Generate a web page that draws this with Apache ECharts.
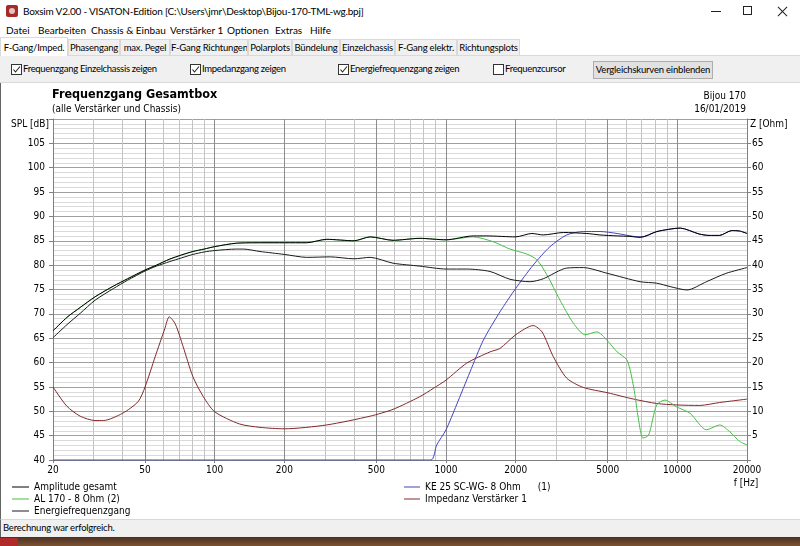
<!DOCTYPE html>
<html>
<head>
<meta charset="utf-8">
<script src="https://cdn.jsdelivr.net/npm/echarts@6/dist/echarts.min.js"></script>
<style>
  html, body { margin: 0; padding: 0; width: 800px; height: 546px; overflow: hidden; background: #fff; }
  body { position: relative; font-family: Lato, "Liberation Sans", sans-serif; font-size: 10px; color: #000; }
  .abs { position: absolute; white-space: nowrap; }
  .tab { position: absolute; top: 39px; height: 16px; line-height: 16px; text-align: center; background: #f0f0f0; border: 1px solid #d9d9d9; border-bottom: none; box-sizing: border-box; white-space: nowrap; overflow: hidden; font-size: 9.5px; letter-spacing: -0.2px; }
  .tab.sel { top: 37px; height: 19px; line-height: 19px; background: #fff; border-color: #d9d9d9; z-index: 2; }
  .cb { position: absolute; top: 64px; width: 11px; height: 11px; box-sizing: border-box; border: 1px solid #333; background: #fff; }
  .cbl { font-size: 9.5px; letter-spacing: -0.3px; top: 63px; }
</style>
</head>
<body>
<!-- Titelleiste -->
<div class="abs" style="left:6px;top:5px;width:12px;height:12px;background:#a52a2a;border-radius:2px;"></div>
<div class="abs" style="left:9px;top:8px;width:6px;height:6px;background:#e8c0c0;border-radius:3px;"></div>
<div class="abs" style="left:23px;top:5px;font-size:10px;letter-spacing:-0.2px;">Boxsim V2.00 - VISATON-Edition [C:\Users\jmr\Desktop\Bijou-170-TML-wg.bpj]</div>
<div class="abs" style="left:711px;top:11px;width:10px;height:1px;background:#222;"></div>
<div class="abs" style="left:743px;top:6px;width:9px;height:9px;border:1px solid #222;box-sizing:border-box;"></div>
<div class="abs" style="left:776px;top:11px;width:13px;height:1px;background:#222;transform:rotate(45deg);"></div>
<div class="abs" style="left:776px;top:11px;width:13px;height:1px;background:#222;transform:rotate(-45deg);"></div>

<!-- Menü -->
<div class="abs" style="left:6px;top:24px;">Datei</div>
<div class="abs" style="left:38px;top:24px;">Bearbeiten</div>
<div class="abs" style="left:91px;top:24px;">Chassis &amp; Einbau</div>
<div class="abs" style="left:170px;top:24px;">Verstärker 1</div>
<div class="abs" style="left:227px;top:24px;">Optionen</div>
<div class="abs" style="left:275px;top:24px;">Extras</div>
<div class="abs" style="left:310px;top:24px;">Hilfe</div>

<div id="tabs"></div>

<!-- Optionsleiste -->
<div class="abs" style="left:0;top:55px;width:800px;height:28px;background:#f0f0f0;border-top:1px solid #d9d9d9;border-bottom:1px solid #dadada;box-sizing:border-box;"></div>
<div id="checks"></div>
<div class="abs" style="left:593px;top:61px;width:120px;height:18px;background:#e1e1e1;border:1px solid #adadad;box-sizing:border-box;text-align:center;line-height:16px;font-size:9.5px;letter-spacing:-0.2px;">Vergleichskurven einblenden</div>

<!-- Diagramm -->
<div class="abs" style="left:0;top:83px;width:800px;height:436px;background:#fff;border-left:1px solid #646464;box-sizing:border-box;"></div>
<div id="chart" class="abs" style="left:0;top:84px;width:800px;height:434px;"></div>

<!-- Statusleiste -->
<div class="abs" style="left:0;top:519px;width:800px;height:18px;background:#f0f0f0;border-top:1px solid #d7d7d7;border-left:1px solid #646464;box-sizing:border-box;"></div>
<div class="abs" style="left:3px;top:522px;font-size:9.5px;letter-spacing:-0.2px;">Berechnung war erfolgreich.</div>
<div class="abs" style="left:0;top:537px;width:800px;height:9px;background:linear-gradient(#4a3020,#7b5334);"></div>
<div class="abs" style="left:0;top:538px;width:18px;height:8px;background:#b02a2a;"></div>

<script>

// Amplitude gesamt [dB]
const ampFreq = [20, 23, 26.2, 30.4, 36.5, 42, 50, 56, 63.6, 72, 80.5, 90, 100, 124, 160, 200, 250, 305, 400, 470, 590, 770,
  1000, 1310, 1500, 2000, 2350, 2630, 3215, 4060, 4630, 5490, 6230, 6900, 8160, 10300, 12400, 13700, 15200, 17200, 18600, 20000];
const ampDb = [66.5, 69.3, 71.3, 73.5, 75.7, 77.2, 79.0, 80.0, 81.2, 82.1, 82.8, 83.3, 83.8, 84.5, 84.6, 84.6, 84.6, 85.3, 85.0, 85.8, 85.1, 85.5,
  85.2, 86.0, 86.0, 85.8, 86.5, 86.2, 86.7, 86.5, 86.2, 86.0, 85.9, 85.7, 86.9, 87.6, 86.4, 86.1, 86.1, 87.1, 87.0, 86.5];

// AL 170 - 8 Ohm (Tiefmitteltöner) [dB]
const wooferFreq = [20, 23, 26.2, 30.4, 36.5, 42, 50, 56, 63.6, 72, 80.5, 90, 100, 124, 160, 200, 250, 305, 400, 470, 590, 770,
  1000, 1310, 1600, 1890, 2230, 2470, 2730, 3110, 3550, 3990, 4490, 4960, 5490, 6060, 6470, 6800, 7100, 7510, 8140, 8840,
  9930, 11340, 13360, 15250, 16850, 18600, 20000];
const wooferDb = [66.5, 69.3, 71.3, 73.5, 75.7, 77.2, 79.0, 80.0, 81.2, 82.1, 82.8, 83.3, 83.8, 84.5, 84.6, 84.6, 84.6, 85.3, 85.0, 85.8, 85.1, 85.5,
  85.2, 85.8, 84.8, 83.3, 82.3, 81.1, 78.0, 72.8, 68.1, 65.7, 66.3, 64.6, 62.2, 60.5, 55.0, 48.2, 44.5, 45.1, 51.3, 52.3,
  50.9, 49.6, 46.2, 47.2, 45.8, 43.8, 43.1];

// Energiefrequenzgang [dB]
const energyFreq = [20, 23, 26.2, 30.4, 36.5, 42, 50, 56, 63.6, 72, 80.5, 90, 100, 124, 133, 157, 200, 250, 316, 400, 470, 590, 770,
  1000, 1230, 1550, 1890, 2310, 2630, 3325, 3920, 5000, 6900, 8140, 9300, 11000, 13360, 16200, 20000];
const energyDb = [65.1, 67.8, 70.1, 72.8, 75.2, 76.9, 78.8, 79.8, 80.7, 81.5, 82.2, 82.7, 83.0, 83.3, 83.3, 82.8, 82.2, 81.6, 81.7, 81.3, 81.6, 80.4, 79.8,
  79.2, 79.2, 78.7, 77.1, 76.6, 77.2, 79.4, 79.5, 78.3, 76.6, 76.3, 75.6, 74.9, 76.6, 78.3, 79.5];

// KE 25 SC-WG (Hochtöner) [dB], unterhalb 870 Hz am unteren Rand
const tweeterFreq = [20, 100, 500, 860, 912, 1000, 1110, 1270, 1450, 1710, 2000, 2380, 2815, 3325, 3920, 4630, 5490, 6470,
  7100, 8160, 10300, 12400, 13700, 15200, 17200, 18600, 20000];
const tweeterDb = [40, 40, 40, 40, 43.1, 46.2, 51.3, 58.1, 64.6, 70.4, 75.2, 80.0, 83.8, 86.2, 86.9, 86.9, 86.5, 85.9,
  85.8, 86.9, 87.6, 86.4, 86.1, 86.1, 87.1, 87.0, 86.5];

// Impedanz Verstärker 1 [Ohm]
const impFreq = [20, 22.9, 26.2, 30.4, 33, 40, 46.7, 50, 55.3, 60.9, 63.6, 67.6, 73, 80.5, 89.3, 100, 128, 157, 200, 305, 470, 590, 770,
  881, 1000, 1230, 1550, 1710, 2000, 2380, 2600, 2910, 3325, 3920, 5000, 6470, 8140, 9930, 12500, 15250, 20000];
const impOhm = [15.0, 11.1, 9.0, 8.1, 8.1, 9.6, 12.0, 15.0, 21.2, 27.0, 29.4, 27.9, 23.3, 17.1, 13.0, 9.9, 7.4, 6.7, 6.4, 7.2, 9.0, 10.4, 13.0,
  14.7, 16.4, 19.9, 22.2, 22.9, 25.7, 27.6, 26.3, 21.2, 16.8, 14.9, 13.8, 12.5, 11.6, 11.3, 11.2, 11.8, 12.5];

// Achsen
const freqLabels = [20, 50, 100, 200, 500, 1000, 2000, 5000, 10000, 20000];
const freqMinor = [30, 40, 60, 70, 80, 90, 300, 400, 600, 700, 800, 900, 3000, 4000, 6000, 7000, 8000, 9000];

const NAME_AMP = 'Amplitude gesamt';
const NAME_WOOF = 'AL 170 - 8 Ohm (2)';
const NAME_ENERGY = 'Energiefrequenzgang';
const NAME_TWEET = 'KE 25 SC-WG- 8 Ohm      (1)';
const NAME_IMP = 'Impedanz Verstärker 1';

const FONT = '"DejaVu Sans Condensed", "DejaVu Sans", sans-serif';

// Reiter und Checkboxen
const tabs = [['F-Gang/Imped.', 0, 68, true], ['Phasengang', 68, 52], ['max. Pegel', 120, 50], ['F-Gang Richtungen', 170, 78],
  ['Polarplots', 248, 44], ['Bündelung', 292, 48], ['Einzelchassis', 340, 55], ['F-Gang elektr.', 395, 62], ['Richtungsplots', 457, 63]];
let tabHtml = '';
tabs.forEach(t => {
  tabHtml += `<div class="tab${t[3] ? ' sel' : ''}" style="left:${t[1]}px;width:${t[2]}px;">${t[0]}</div>`;
});
document.getElementById('tabs').innerHTML = tabHtml;

const checks = [[11, true, 'Frequenzgang Einzelchassis zeigen'], [190, true, 'Impedanzgang zeigen'],
  [338, true, 'Energiefrequenzgang zeigen'], [493, false, 'Frequenzcursor']];
let cbHtml = '';
checks.forEach(c => {
  const mark = c[1] ? '<svg width="9" height="9" style="position:absolute;left:0;top:0"><polyline points="1.5,4.5 3.5,7 8,1.5" fill="none" stroke="#222" stroke-width="1.1"/></svg>' : '';
  cbHtml += `<div class="cb" style="left:${c[0]}px;">${mark}</div><div class="abs cbl" style="left:${c[0] + 12}px;">${c[2]}</div>`;
});
document.getElementById('checks').innerHTML = cbHtml;

const log = f => Math.log10(f);
const toPoints = (fs, vs) => fs.map((f, i) => [log(f), vs[i]]);

const myChart = echarts.init(document.getElementById('chart'), null, { renderer: 'canvas' });

const baseSeries = (name, color, fs, vs, yIndex) => ({
  name: name,
  type: 'line',
  xAxisIndex: 0,
  yAxisIndex: yIndex,
  data: toPoints(fs, vs),
  symbol: 'none',
  smooth: 0.25,
  lineStyle: { color: color, width: 1 },
  itemStyle: { color: color },
  emphasis: { disabled: true },
});

const option = {
  animation: false,
  backgroundColor: 'transparent',
  textStyle: { fontFamily: FONT },
  title: {
    text: 'Frequenzgang Gesamtbox',
    subtext: '(alle Verstärker und Chassis)',
    left: 52,
    top: 4,
    padding: 0,
    itemGap: 3,
    textStyle: { fontFamily: FONT, fontSize: 12.5, fontWeight: 'bold', color: '#000' },
    subtextStyle: { fontFamily: FONT, fontSize: 10, color: '#000' },
  },
  graphic: [
    { type: 'text', x: 746, y: 12, style: { text: 'Bijou 170', align: 'right', verticalAlign: 'middle', font: '10px ' + FONT, fill: '#000' } },
    { type: 'text', x: 746, y: 25, style: { text: '16/01/2019', align: 'right', verticalAlign: 'middle', font: '10px ' + FONT, fill: '#000' } },
    { type: 'text', x: 49, y: 40, style: { text: 'SPL [dB]', align: 'right', verticalAlign: 'middle', font: '10px ' + FONT, fill: '#000' } },
    { type: 'text', x: 750, y: 40, style: { text: 'Z [Ohm]', align: 'left', verticalAlign: 'middle', font: '10px ' + FONT, fill: '#000' } },
    { type: 'text', x: 746, y: 399, style: { text: 'f [Hz]', align: 'center', verticalAlign: 'middle', font: '10px ' + FONT, fill: '#000' } },
  ],
  legend: [
    {
      orient: 'vertical',
      left: 12,
      top: 397,
      padding: 0,
      itemGap: 0,
      itemWidth: 17,
      itemHeight: 1,
      icon: 'rect',
      selectedMode: false,
      textStyle: { fontFamily: FONT, fontSize: 10, lineHeight: 12, color: '#000' },
      data: [NAME_AMP, NAME_WOOF, NAME_ENERGY],
    },
    {
      orient: 'vertical',
      left: 404,
      top: 397,
      padding: 0,
      itemGap: 0,
      itemWidth: 16,
      itemHeight: 1,
      icon: 'rect',
      selectedMode: false,
      textStyle: { fontFamily: FONT, fontSize: 10, lineHeight: 12, color: '#000' },
      data: [NAME_TWEET, NAME_IMP],
    },
  ],
  grid: { left: 53, right: 53, top: 35, bottom: 58, containLabel: false },
  xAxis: [
    {
      type: 'value',
      min: log(20),
      max: log(20000),
      axisLine: { show: true, onZero: false, lineStyle: { color: '#808080', width: 1 } },
      axisTick: { show: true, length: 3, customValues: freqLabels.map(log), lineStyle: { color: '#808080' } },
      axisLabel: {
        customValues: freqLabels.map(log),
        margin: 5,
        fontFamily: FONT,
        fontSize: 10,
        color: '#000',
        formatter: v => String(Math.round(Math.pow(10, v))),
      },
      splitLine: { show: true, lineStyle: { color: '#8c8c8c', width: 1 } },
    },
    {
      type: 'value',
      min: log(20),
      max: log(20000),
      position: 'bottom',
      axisLine: { show: false },
      axisTick: { show: false, customValues: freqMinor.map(log) },
      axisLabel: { show: false },
      splitLine: { show: true, lineStyle: { color: '#c4c4c4', width: 1 } },
      z: 0,
    },
  ],
  yAxis: [
    {
      type: 'value',
      min: 40,
      max: 110,
      interval: 5,
      position: 'left',
      axisLine: { show: true, lineStyle: { color: '#808080' } },
      axisTick: { show: true, length: 4, lineStyle: { color: '#808080' } },
      axisLabel: {
        margin: 8,
        fontFamily: FONT,
        fontSize: 10,
        color: '#000',
        formatter: v => (v >= 110 ? '' : String(v)),
      },
      splitLine: { show: true, lineStyle: { color: '#a0a0a0' } },
      minorTick: { show: false, splitNumber: 5 },
      minorSplitLine: { show: true, lineStyle: { color: '#dadada' } },
    },
    {
      type: 'value',
      min: 0,
      max: 70,
      interval: 5,
      position: 'right',
      axisLine: { show: true, lineStyle: { color: '#808080' } },
      axisTick: { show: true, length: 4, lineStyle: { color: '#808080' } },
      axisLabel: {
        margin: 5,
        fontFamily: FONT,
        fontSize: 10,
        color: '#000',
        formatter: v => (v <= 0 || v >= 70 ? '' : String(v)),
      },
      splitLine: { show: false },
    },
  ],
  series: [
    baseSeries(NAME_IMP, '#802828', impFreq, impOhm, 1),
    baseSeries(NAME_TWEET, '#4343c2', tweeterFreq, tweeterDb, 0),
    baseSeries(NAME_WOOF, '#44c044', wooferFreq, wooferDb, 0),
    baseSeries(NAME_ENERGY, '#1a1a1a', energyFreq, energyDb, 0),
    baseSeries(NAME_AMP, '#000000', ampFreq, ampDb, 0),
  ],
};

myChart.setOption(option);
</script>
</body>
</html>
